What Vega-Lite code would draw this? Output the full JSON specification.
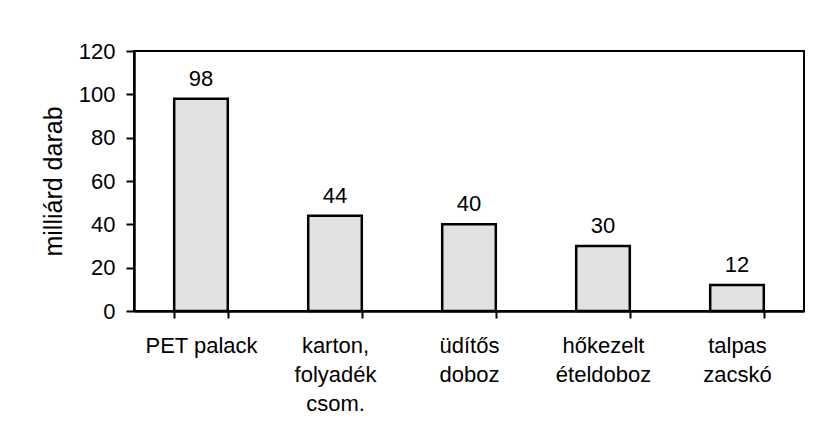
{
  "$schema": "https://vega.github.io/schema/vega-lite/v6.json",
  "width": 670,
  "height": 260,
  "autosize": {"type": "none"},
  "padding": {"left": 134, "top": 51, "right": 12, "bottom": 131},
  "background": "white",
  "data": {
    "values": [
      {"kategoria": "PET palack", "ertek": 98},
      {"kategoria": "karton,|folyadék|csom.", "ertek": 44},
      {"kategoria": "üdítős|doboz", "ertek": 40},
      {"kategoria": "hőkezelt|ételdoboz", "ertek": 30},
      {"kategoria": "talpas|zacskó", "ertek": 12}
    ]
  },
  "encoding": {
    "x": {
      "field": "kategoria",
      "type": "nominal",
      "sort": null,
      "scale": {"paddingInner": 0.6, "paddingOuter": 0.3},
      "axis": {
        "title": null,
        "labelAngle": 0,
        "labelExpr": "split(datum.label, '|')",
        "labelFont": "Liberation Sans",
        "labelFontSize": 22,
        "labelColor": "black",
        "labelLineHeight": 29,
        "labelPadding": 17,
        "labelLimit": 250,
        "tickBand": "extent",
        "tickSize": 7,
        "tickWidth": 2,
        "tickColor": "black",
        "domainColor": "black",
        "domainWidth": 2.5
      }
    },
    "y": {
      "field": "ertek",
      "type": "quantitative",
      "scale": {"domain": [0, 120], "nice": false},
      "axis": {
        "title": "milliárd darab",
        "titleFont": "Liberation Sans",
        "titleFontSize": 25,
        "titleFontWeight": "normal",
        "titleColor": "black",
        "titlePadding": 12,
        "values": [0, 20, 40, 60, 80, 100, 120],
        "labelFont": "Liberation Sans",
        "labelFontSize": 22,
        "labelColor": "black",
        "labelPadding": 11,
        "tickSize": 8,
        "tickWidth": 2,
        "tickColor": "black",
        "domainColor": "black",
        "domainWidth": 2.5,
        "grid": false
      }
    }
  },
  "layer": [
    {
      "mark": {"type": "bar", "fill": "#e2e2e2", "stroke": "black", "strokeWidth": 2.5}
    },
    {
      "mark": {"type": "text", "baseline": "alphabetic", "dy": -13, "font": "Liberation Sans", "fontSize": 22, "color": "black"},
      "encoding": {"text": {"field": "ertek", "type": "quantitative"}}
    }
  ],
  "config": {
    "view": {"stroke": "black", "strokeWidth": 2}
  }
}
